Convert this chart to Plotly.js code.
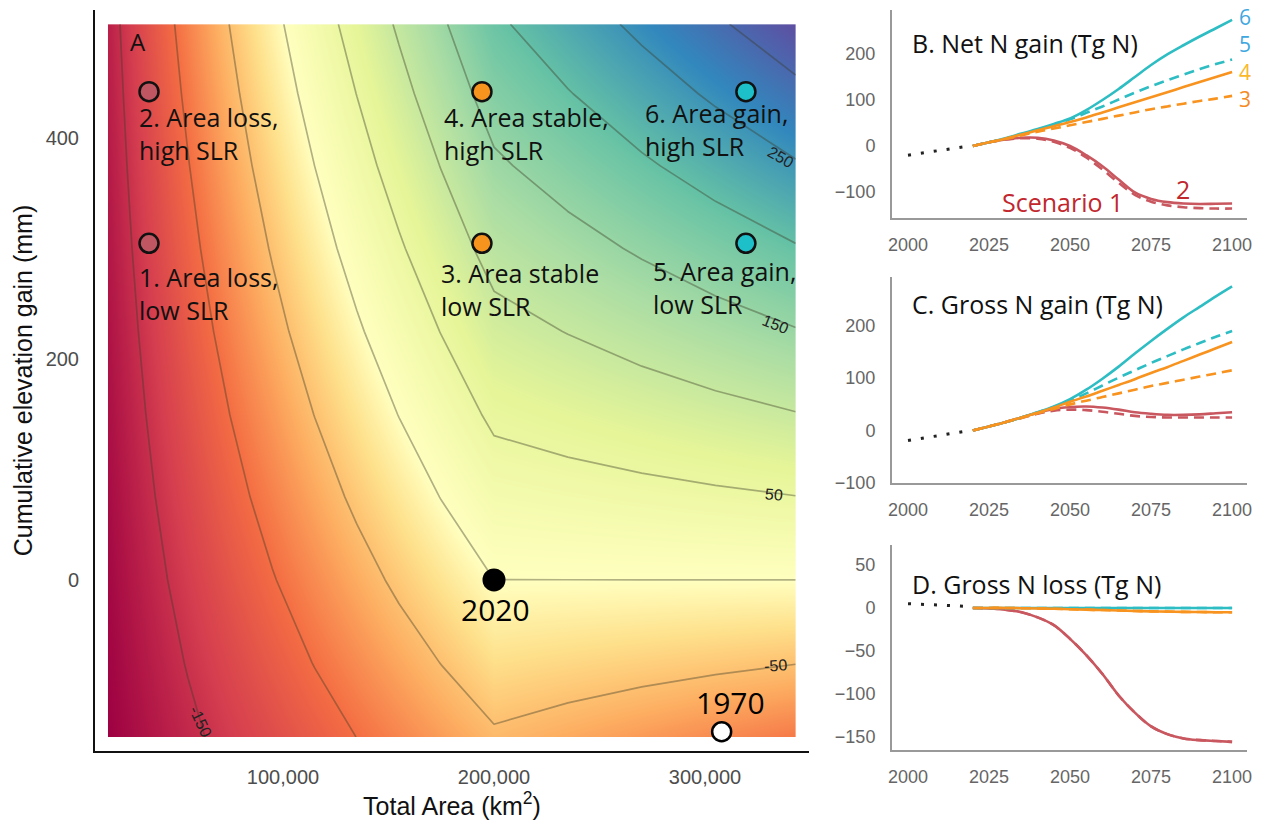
<!DOCTYPE html>
<html><head><meta charset="utf-8">
<script src="https://cdn.plot.ly/plotly-3.0.1.min.js"></script>
<style>html,body{margin:0;padding:0;background:#fff}#chart{width:1263px;height:823px}</style>
</head><body><div id="chart"></div>
<script>
const areaGrid = [17000, 35000, 55000, 75000, 95000, 115000, 135000, 155000, 175000, 200000, 235000, 270000, 305000, 343000];
const elevGrid = [-142, -75, 0, 75, 150, 225, 300, 375, 440, 503];
const netRowM142 = [-182.1, -169.5, -155.6, -141.6, -127.7, -113.7, -99.7, -85.8, -71.8, -54.4, -63.9, -73.4, -82.9, -93.2];
const netRowM75  = [-179.9, -165.1, -148.5, -132.0, -115.5, -99.0, -82.4, -65.9, -49.4, -28.7, -33.7, -38.8, -43.8, -49.2];
const netRow0    = [-177.5, -160.0, -140.6, -121.2, -101.8, -82.4, -63.0, -43.6, -24.2, -0.1, -0.1, -0.1, -0.1, -0.1];
const netRow75   = [-175.1, -155.0, -132.7, -110.5, -88.2, -65.9, -43.7, -21.4, 0.9, 28.7, 33.7, 38.8, 43.8, 49.2];
const netRow150  = [-172.6, -150.0, -124.8, -99.7, -74.6, -49.4, -24.3, 0.9, 26.0, 57.4, 67.5, 77.5, 87.6, 98.5];
const netRow225  = [-170.2, -145.0, -117.0, -88.9, -60.9, -32.9, -4.9, 23.1, 51.1, 86.1, 101.2, 116.3, 131.3, 147.7];
const netRow300  = [-167.7, -139.9, -109.1, -78.2, -47.3, -16.4, 14.5, 45.4, 76.2, 114.8, 134.9, 155.0, 175.1, 197.0];
const netRow375  = [-165.3, -134.9, -101.2, -67.4, -33.7, 0.1, 33.9, 67.6, 101.4, 143.6, 168.7, 193.8, 218.9, 246.2];
const netRow440  = [-163.2, -130.6, -94.3, -58.1, -21.8, 14.4, 50.6, 86.9, 123.1, 168.4, 197.9, 227.4, 256.9, 288.9];
const netRow503  = [-161.1, -126.3, -87.7, -49.0, -10.4, 28.3, 66.9, 105.6, 144.2, 192.5, 226.2, 259.9, 293.6, 330.2];

const scenArea = [36500, 36500, 194300, 194300, 319400, 319400];
const scenElev = [304.7, 441.9, 304.7, 441.9, 304.7, 441.9];
const scenLabels = ['1. Area loss,<br>low SLR', '2. Area loss,<br>high SLR', '3. Area stable<br>low SLR',
                    '4. Area stable,<br>high SLR', '5. Area gain,<br>low SLR', '6. Area gain,<br>high SLR'];
const refArea = [200000, 307900];
const refElev = [0, -137.3];
const refLabels = ['2020', '1970'];
const contourLabels = ['-150', '-50', '50', '150', '250'];

// ---------- Panels B-D: time series (Tg N) ----------
const years = [2020, 2025, 2030, 2035, 2040, 2045, 2050, 2055, 2060, 2065, 2070, 2075, 2080, 2085, 2090, 2095, 2100];
const histYears = [2000, 2005, 2010, 2017];

const netHist = [-20, -15, -9, -2];
const netS1 = [0, 8, 14, 17, 16, 9, -4, -25, -51, -80, -106, -121, -129, -133, -135, -136, -136];
const netS2 = [0, 8, 14, 18, 18, 12, 0, -20, -44, -73, -101, -115, -122, -125, -126, -125.5, -125];
const netS3 = [0, 8, 15, 23, 31, 38, 45, 52, 59, 66, 73, 80, 86, 92, 98, 103, 109];
const netS4 = [0, 8, 16, 25, 34, 43, 52, 62, 73, 84, 95, 106, 117, 128, 139, 150, 161];
const netS5 = [0, 8, 16, 25, 35, 46, 58, 72, 86, 101, 116, 130, 143, 155, 167, 178, 188];
const netS6 = [0, 8, 17, 27, 37, 48, 60, 78, 100, 124, 150, 176, 199, 219, 238, 256, 274];

const gainHist = [-19, -14, -8, -2];
const gainS1 = [0, 8, 16, 24, 32, 38, 40, 39, 36, 32, 28, 26, 25, 25, 25, 25, 25];
const gainS2 = [0, 8, 16, 25, 34, 41, 45, 46, 44, 40, 35, 32, 30, 30, 31, 33, 35];
const gainS3 = [0, 8, 16, 24, 33, 41, 50, 57, 64, 71, 78, 85, 91, 97, 103, 109, 115];
const gainS4 = [0, 8, 16, 25, 34, 44, 55, 65, 76, 87, 98, 110, 121, 133, 145, 157, 169];
const gainS5 = [0, 8, 16, 25, 35, 45, 57, 71, 86, 101, 115, 129, 142, 155, 167, 179, 190];
const gainS6 = [0, 8, 16, 25, 35, 46, 60, 78, 99, 122, 147, 171, 194, 216, 236, 256, 275];

const lossHist = [5, 4, 3, 2];
const lossS1 = [0, -0.5, -2, -5, -11, -20, -36, -55, -77, -102, -122, -138, -147, -152, -154, -155, -156];
const lossS2 = [0, -0.5, -2, -5, -11, -20, -36, -55, -77, -102, -122, -138, -147, -152, -154, -155, -156];
const lossS3 = [0, 0, 0, -0.3, -0.6, -1, -1.5, -2, -2.5, -3, -3.5, -4, -4.3, -4.6, -4.8, -5, -5];
const lossS4 = [0, 0, 0, -0.3, -0.6, -1, -1.5, -2, -2.5, -3, -3.5, -4, -4.3, -4.6, -4.8, -5, -5];
const lossS5 = [0, 0, 0, 0, 0, 0, 0, 0, 0, 0, 0, 0, 0, 0, 0, 0, 0];
const lossS6 = [0, 0, 0, 0, 0, 0, 0, 0, 0, 0, 0, 0, 0, 0, 0, 0, 0];

// ---------- styling ----------
const W = 1263, H = 823;
const px = v => v / W, py = v => 1 - v / H;
const CYAN = '#2DBDC3', ORANGE = '#F7931E', RED = '#C9575F';
const scenFill = ['#BF5661', '#BF5661', '#F7941D', '#F7941D', '#1DBFC9', '#1DBFC9'];
const spectral = [
  [0, '#9E0142'], [0.082, '#D53E4F'], [0.16, '#F46D43'], [0.2344, '#FDAE61'], [0.3008, '#FEE08B'],
  [0.3555, '#FFFFBF'], [0.4844, '#E6F598'], [0.6133, '#ABDDA4'], [0.7422, '#66C2A5'], [0.8711, '#3288BD'], [1, '#5E4FA2']
];

const netN = [netRowM142, netRowM75, netRow0, netRow75, netRow150, netRow225, netRow300, netRow375, netRow440, netRow503];

const traces = [];
traces.push({
  type: 'contour', x: areaGrid, y: elevGrid, z: netN, xaxis: 'x', yaxis: 'y',
  zauto: false, zmin: -182, zmax: 330, colorscale: spectral, showscale: false,
  contours: {coloring: 'heatmap', start: -150, end: 300, size: 50, showlabels: false},
  line: {color: 'rgba(60,60,40,0.4)', width: 1.7, smoothing: 0}, hoverinfo: 'skip'
});
traces.push({
  type: 'scatter', mode: 'markers', x: scenArea, y: scenElev, xaxis: 'x', yaxis: 'y',
  marker: {size: 19, opacity: 1, color: scenFill, line: {color: '#111', width: 2.5}}, hoverinfo: 'skip'
});
traces.push({
  type: 'scatter', mode: 'markers', x: refArea, y: refElev, xaxis: 'x', yaxis: 'y',
  marker: {size: [23, 19], opacity: 1, color: ['#000', '#fff'], line: {color: '#000', width: [0, 2.5]}}, hoverinfo: 'skip'
});

function addPanel(ax, hist, s1, s2, s3, s4, s5, s6) {
  const xa = 'x' + ax, ya = 'y' + ax;
  const ln = (y, color, dash) => ({type: 'scatter', mode: 'lines', x: years, y: y, xaxis: xa, yaxis: ya,
    line: {color: color, width: 2.6, dash: dash, shape: 'spline', smoothing: 1}, hoverinfo: 'skip'});
  traces.push({type: 'scatter', mode: 'lines', x: histYears, y: hist, xaxis: xa, yaxis: ya,
    line: {color: '#222', width: 3, dash: '3px,10px'}, hoverinfo: 'skip'});
  traces.push(ln(s1, RED, '10px,6px'));
  traces.push(ln(s2, RED, 'solid'));
  traces.push(ln(s5, CYAN, '10px,6px'));
  traces.push(ln(s6, CYAN, 'solid'));
  traces.push(ln(s3, ORANGE, '10px,6px'));
  traces.push(ln(s4, ORANGE, 'solid'));
}
addPanel(2, netHist, netS1, netS2, netS3, netS4, netS5, netS6);
addPanel(3, gainHist, gainS1, gainS2, gainS3, gainS4, gainS5, gainS6);
addPanel(4, lossHist, lossS1, lossS2, lossS3, lossS4, lossS5, lossS6);

const tickFontA = {family: 'Liberation Sans, Arial, sans-serif', size: 20, color: '#4d4d4d'};
const tickFontR = {family: 'Liberation Sans, Arial, sans-serif', size: 18, color: '#666'};
const rightX = (anchor) => ({
  domain: [px(892), px(1247)], anchor: anchor, range: [1995.06, 2104.6],
  tickvals: [2000, 2025, 2050, 2075, 2100], ticks: 'outside', ticklen: 9, tickcolor: 'rgba(0,0,0,0)',
  tickfont: tickFontR, showgrid: false, zeroline: false, showline: true, linecolor: '#999', linewidth: 2, fixedrange: true
});
const rightY = (anchor, top, bottom, range, tv) => ({
  domain: [py(bottom), py(top)], anchor: anchor, range: range, tickvals: tv,
  ticks: 'outside', ticklen: 11, tickcolor: 'rgba(0,0,0,0)',
  tickfont: tickFontR, showgrid: false, zeroline: false, showline: true, linecolor: '#999', linewidth: 2, fixedrange: true
});

const annFont = (size, color) => ({family: 'Open Sans, Noto Sans, sans-serif', size: size, color: color || '#111'});
const annotations = [];
const scenLabelPos = [[30806, 259.3], [30806, 403.6], [173934, 262.9], [175355, 403.6], [274408, 264.7], [270616, 407.7]];
scenLabels.forEach((t, i) => annotations.push({xref: 'x', yref: 'y', x: scenLabelPos[i][0], y: scenLabelPos[i][1],
  text: t, showarrow: false, xanchor: 'left', yanchor: 'middle', align: 'left', font: annFont(25)}));
annotations.push({xref: 'x', yref: 'y', x: 26540, y: 486.9, text: 'A', showarrow: false, xanchor: 'left', yanchor: 'middle', font: annFont(24)});
annotations.push({xref: 'x', yref: 'y', x: 200948, y: -27.1, text: refLabels[0], showarrow: false, font: annFont(30, '#000')});
annotations.push({xref: 'x', yref: 'y', x: 312322, y: -111.3, text: refLabels[1], showarrow: false, font: annFont(30, '#000')});
const clPos = [[60700, -128.5, 65], [333200, -77, -4], [332700, 77, 5], [333600, 230.8, 22], [336000, 382, 30]];
contourLabels.forEach((t, i) => annotations.push({xref: 'x', yref: 'y', x: clPos[i][0], y: clPos[i][1], text: t,
  textangle: clPos[i][2], showarrow: false, font: {family: 'Liberation Sans, Arial, sans-serif', size: 16, color: '#222'}}));

const pAnn = (x, y, text, size, color, xanchor) => annotations.push({xref: 'paper', yref: 'paper', x: px(x), y: py(y),
  text: text, showarrow: false, xanchor: xanchor || 'center', yanchor: 'middle', font: annFont(size, color)});
pAnn(910, 43, 'B. Net N gain (Tg N)', 25, '#111', 'left');
pAnn(910, 304, 'C. Gross N gain (Tg N)', 25, '#111', 'left');
pAnn(910, 584, 'D. Gross N loss (Tg N)', 25, '#111', 'left');
// scenario numbers at line ends of panel B, stacked in one text block
annotations.push({xref: 'paper', yref: 'paper', x: px(1245), y: py(58), showarrow: false, xanchor: 'center', yanchor: 'middle',
  align: 'center', font: annFont(21, '#3FA7DF'),
  text: '<span style="color:#3FA7DF">6</span><br><span style="color:#3FA7DF">5</span><br>' +
        '<span style="color:#FBB829">4</span><br><span style="color:#F58A1F">3</span>'});
pAnn(1062, 202, 'Scenario 1', 25, '#C1272D');
pAnn(1183, 189, '2', 25, '#C1272D');

const layout = {
  width: W, height: H, margin: {l: 0, r: 0, t: 0, b: 0}, paper_bgcolor: '#fff', plot_bgcolor: '#fff',
  showlegend: false, font: {family: 'Liberation Sans, Arial, sans-serif'},
  xaxis: {domain: [px(95), px(809)], anchor: 'y', range: [10900, 349300], tickvals: [100000, 200000, 300000], tickformat: ',',
    ticks: 'outside', ticklen: 7, tickcolor: 'rgba(0,0,0,0)', tickfont: tickFontA,
    showgrid: false, zeroline: false, showline: true, linecolor: '#111', linewidth: 2, fixedrange: true,
    title: {text: 'Total Area (km<sup>2</sup>)', font: {family: 'Liberation Sans, Arial, sans-serif', size: 25, color: '#111'}, standoff: 10}},
  yaxis: {domain: [py(751), py(10)], anchor: 'x', range: [-154.75, 515.8], tickvals: [0, 200, 400],
    ticks: 'outside', ticklen: 10, tickcolor: 'rgba(0,0,0,0)', tickfont: tickFontA,
    showgrid: false, zeroline: false, showline: true, linecolor: '#111', linewidth: 2, fixedrange: true,
    title: {text: 'Cumulative elevation gain (mm)', font: {family: 'Liberation Sans, Arial, sans-serif', size: 25, color: '#111'}, standoff: 6}},
  xaxis2: rightX('y2'), yaxis2: rightY('x2', 10, 218, [-156.5, 295.6], [-100, 0, 100, 200]),
  xaxis3: rightX('y3'), yaxis3: rightY('x3', 277, 483, [-100, 293], [-100, 0, 100, 200]),
  xaxis4: rightX('y4'), yaxis4: rightY('x4', 545, 750, [-165.5, 73.3], [-150, -100, -50, 0, 50]),
  annotations: annotations
};
Plotly.newPlot('chart', traces, layout, {displayModeBar: false, staticPlot: true});
</script></body></html>
